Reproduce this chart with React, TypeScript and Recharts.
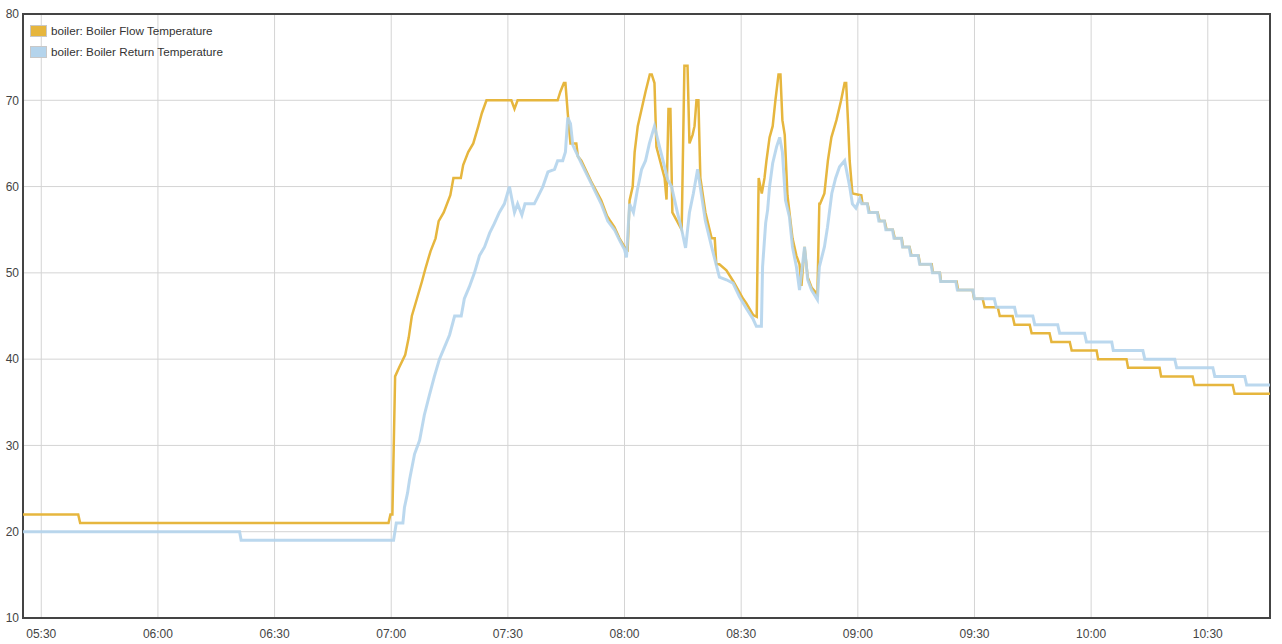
import { CartesianGrid, Line, LineChart, ReferenceArea, XAxis, YAxis } from "recharts";

// time in minutes since midnight, temperatures in °C
const flowTime = [
  325.3, 339.5, 340.0, 419.3, 419.8, 420.3, 421.0, 422.0, 423.6, 424.5, 425.3, 426.6, 427.9, 428.8,
  430.1, 431.4, 432.2, 433.5, 435.2, 436.0, 437.9, 438.5, 439.8, 441.1, 442.4, 443.3, 444.5, 450.9,
  451.7, 452.5, 462.8, 463.5, 464.4, 464.8, 465.4, 466.1, 467.6, 468.0, 468.9, 471.4, 474.0, 475.5,
  476.2, 477.4, 478.7, 480.0, 480.8, 481.3, 482.1, 482.6, 483.4, 484.4, 485.4, 486.5, 487.0, 487.7,
  488.2, 490.3, 490.8, 491.3, 491.8, 492.3, 494.7, 495.4, 496.2, 496.7, 497.5, 498.0, 498.5, 499.0,
  499.5, 500.8, 502.4, 503.2, 503.6, 504.4, 506.2, 508.0, 510.5, 511.3, 513.1, 514.0, 514.5, 515.3,
  516.0, 516.5, 517.3, 518.1, 518.8, 519.6, 520.1, 520.6, 521.2, 521.9, 523.2, 524.2, 525.0, 525.5,
  526.3, 527.1, 528.1, 529.6, 530.1, 530.3, 531.4, 532.3, 533.2, 534.5, 535.7, 536.6, 537.0, 537.5,
  537.9, 538.6, 540.9, 541.2, 542.5, 543.0, 545.1, 545.6, 546.9, 547.4, 549.0, 549.5, 551.3, 551.6,
  553.3, 553.8, 555.6, 556.0, 559.0, 559.3, 561.1, 561.4, 565.4, 565.8, 569.5, 569.9, 572.1, 572.6,
  576.0, 576.5, 579.8, 580.3, 584.2, 584.7, 589.3, 589.8, 594.5, 595.0, 601.4, 601.8, 609.1, 609.5,
  617.6, 618.0, 626.1, 626.6, 636.4, 636.9, 646.0,
];
const flowTemp = [
  22, 22, 21, 21, 22, 22, 38, 39, 40.5, 42.5, 45, 47, 49, 50.5,
  52.5, 54, 56, 57, 59, 61, 61, 62.5, 64, 65, 67, 68.5, 70, 70,
  69, 70, 70, 71, 72, 72, 68.5, 65, 65, 63.5, 63, 60.6, 58.4, 56.6,
  56.1, 55.3, 54, 53, 52.7, 58.4, 60, 64, 67, 69, 71, 73, 73, 72,
  64.6, 61, 58.5, 69, 69, 57, 55, 74, 74, 65, 66, 67, 70, 70,
  61, 57, 54, 54, 51, 51, 50.3, 49, 47, 46.5, 45.1, 44.9, 61, 59.2,
  61, 63, 65.7, 67, 70, 73, 73, 67.7, 66, 59, 54, 52, 51, 48.5,
  53, 49.5, 48.3, 47.5, 58, 58, 59.2, 63, 65.7, 67.7, 70, 72, 72, 67.3,
  63, 59.2, 59, 58, 58, 57, 57, 56, 56, 55, 55, 54, 54, 53,
  53, 52, 52, 51, 51, 50, 50, 49, 49, 48, 48, 47, 47, 46,
  46, 45, 45, 44, 44, 43, 43, 42, 42, 41, 41, 40, 40, 39,
  39, 38, 38, 37, 37, 36, 36,
];

const returnTime = [
  325.3, 381.0, 381.4, 420.6, 421.3, 423.0, 423.4, 424.2, 424.7, 426.0, 427.3, 428.5, 429.8, 431.1,
  432.4, 433.7, 435.0, 436.3, 438.0, 438.8, 440.1, 441.4, 442.7, 444.0, 445.3, 446.5, 447.8, 449.1,
  450.4, 451.7, 452.5, 453.6, 454.4, 456.8, 457.7, 459.0, 460.3, 462.0, 462.8, 464.1, 464.8, 465.4,
  466.1, 466.7, 468.9, 471.4, 474.0, 475.7, 477.4, 478.7, 480.0, 480.5, 481.3, 482.3, 483.3, 484.4,
  485.4, 486.4, 487.7, 489.0, 490.3, 491.1, 492.1, 493.6, 494.7, 495.7, 496.7, 497.7, 498.8, 499.8,
  500.8, 502.4, 504.4, 506.2, 507.9, 509.6, 511.3, 513.0, 513.9, 515.2, 515.5, 516.3, 516.8, 517.3,
  518.1, 519.1, 519.9, 520.6, 521.4, 522.4, 523.2, 524.2, 525.0, 526.3, 527.1, 528.1, 529.6, 530.1,
  531.4, 532.2, 533.3, 534.3, 535.3, 536.6, 537.9, 538.6, 539.5, 540.5, 541.0, 542.4, 542.8, 545.0,
  545.4, 546.8, 547.2, 548.9, 549.3, 551.2, 551.5, 553.2, 553.6, 555.5, 555.9, 558.8, 559.2, 561.0,
  561.3, 565.2, 565.6, 569.6, 570.0, 575.1, 575.6, 580.3, 580.8, 585.0, 585.5, 591.4, 591.9, 598.3,
  598.8, 605.3, 605.7, 613.3, 613.8, 621.5, 622.0, 631.3, 631.8, 639.5, 640.0, 646.0,
];
const returnTemp = [
  20, 20, 19, 19, 21, 21, 22.8, 24.5, 26, 29, 30.6, 33.5, 35.8, 38,
  40, 41.4, 42.8, 45, 45, 47, 48.4, 50, 52, 53, 54.6, 55.7, 57, 58,
  60, 57, 58, 56.7, 58, 58, 58.8, 60, 61.7, 62, 63, 63, 64, 68,
  67.3, 64.8, 62.7, 60.4, 58, 56, 55, 53.8, 52.7, 51.8, 58, 57, 59.6, 62,
  63, 65, 67, 64.6, 62.3, 60.8, 60, 57, 55, 52.9, 57, 59.2, 62, 59,
  56, 53, 49.5, 49.2, 48.8, 47.2, 45.9, 44.7, 43.8, 43.8, 50.7, 55.8, 57.3, 60,
  62.7, 64.6, 65.7, 64, 58.4, 56.5, 53, 50.7, 48, 53, 49.2, 48, 46.9, 50.7,
  53, 55.3, 59.2, 61, 62.3, 63, 60, 58, 57.5, 58.6, 58, 58, 57, 57,
  56, 56, 55, 55, 54, 54, 53, 53, 52, 52, 51, 51, 50, 50,
  49, 49, 48, 48, 47, 47, 46, 46, 45, 45, 44, 44, 43, 43,
  42, 42, 41, 41, 40, 40, 39, 39, 38, 38, 37, 37,
];

const xTicks = [330, 360, 390, 420, 450, 480, 510, 540, 570, 600, 630];
const yTicks = [10, 20, 30, 40, 50, 60, 70, 80];
const seriesNames = ["boiler: Boiler Flow Temperature", "boiler: Boiler Return Temperature"];

const FLOW_COLOR = "#e6b63e";
const RETURN_COLOR = "#b4d4ec";
const X_MIN = 325.3;
const X_MAX = 646;

const flowData = flowTime.map((t, i) => ({ t, v: flowTemp[i] }));
const returnData = returnTime.map((t, i) => ({ t, v: returnTemp[i] }));

const hhmm = (m: number) =>
  `${String(Math.floor(m / 60)).padStart(2, "0")}:${String(m % 60).padStart(2, "0")}`;

const tickStyle = { fontSize: 12, fill: "#444", fontFamily: "Liberation Sans, Arial, sans-serif" };

export default function App() {
  const colors = [FLOW_COLOR, RETURN_COLOR];
  // pinned to the page corner, out of the body margin
  return (
    <div style={{ position: "absolute", left: 0, top: 0, width: 1282, height: 644 }}>
      <LineChart width={1282} height={644} margin={{ top: 14, right: 12, bottom: 0, left: 0 }}>
        <CartesianGrid stroke="#d4d4d4" />
        <XAxis
          dataKey="t"
          type="number"
          domain={[X_MIN, X_MAX]}
          ticks={xTicks}
          tickFormatter={hhmm}
          allowDataOverflow
          axisLine={false}
          tickLine={false}
          tickMargin={5}
          height={26}
          tick={tickStyle}
        />
        <YAxis
          type="number"
          domain={[10, 80]}
          ticks={yTicks}
          allowDataOverflow
          axisLine={false}
          tickLine={false}
          tickSize={2}
          tickMargin={2}
          width={23}
          tick={tickStyle}
        />
        <ReferenceArea
          x1={X_MIN}
          x2={X_MAX}
          y1={10}
          y2={80}
          fill="none"
          fillOpacity={0}
          stroke="#444"
          strokeWidth={2}
        />
        <Line
          data={flowData}
          dataKey="v"
          type="linear"
          stroke={FLOW_COLOR}
          strokeWidth={2.5}
          dot={false}
          isAnimationActive={false}
        />
        <Line
          data={returnData}
          dataKey="v"
          type="linear"
          stroke={RETURN_COLOR}
          strokeWidth={3}
          strokeOpacity={0.9}
          dot={false}
          isAnimationActive={false}
        />
      </LineChart>
      <div
        style={{
          position: "absolute",
          left: 30,
          top: 20,
          fontFamily: "Liberation Sans, Arial, sans-serif",
          fontSize: 11.7,
          color: "#333",
        }}
      >
        {seriesNames.map((name, i) => (
          <div key={name} style={{ display: "flex", alignItems: "center", height: 21 }}>
            <span
              style={{
                display: "inline-block",
                width: 15,
                height: 10,
                background: colors[i],
                border: "1px solid #c8c8c8",
                marginRight: 4,
              }}
            />
            {name}
          </div>
        ))}
      </div>
    </div>
  );
}
